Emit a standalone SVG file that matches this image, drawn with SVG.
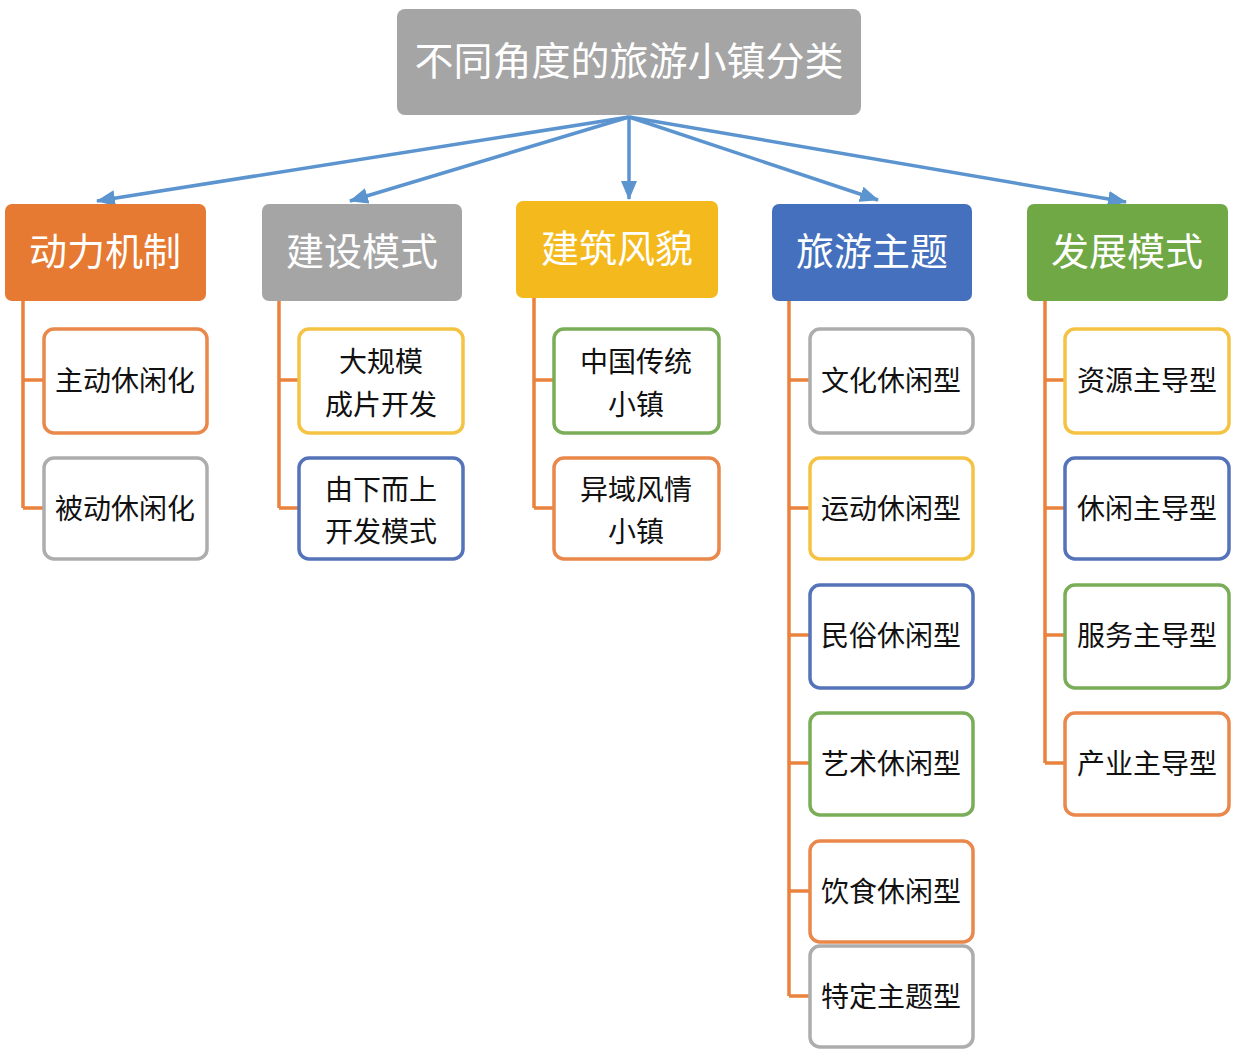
<svg xmlns="http://www.w3.org/2000/svg" width="1233" height="1060" viewBox="0 0 1233 1060">
<style>
text{font-family:"Noto Sans CJK SC","Noto Sans",sans-serif;text-anchor:middle}
.root{font-size:39px;fill:#fff}
.cat{font-size:38px;fill:#fff}
.sub{font-size:28px;fill:#111}
.box{fill:#fff;stroke-width:3.5}
.arr{stroke:#5B94CF;stroke-width:3.5;fill:none;marker-end:url(#ah)}
.tree{stroke:#E9823C;stroke-width:3.5;fill:none}
</style>
<defs>
<marker id="ah" viewBox="0 0 19 16" refX="18" refY="8" markerWidth="19" markerHeight="16" orient="auto" markerUnits="userSpaceOnUse">
<path d="M0,0 L19,8 L0,16 z" fill="#5B94CF"/>
</marker>
</defs>
<rect width="1233" height="1060" fill="#fff"/>
<g id="connectors">
<path class="arr" d="M629,117 L97,201"/>
<path class="arr" d="M629,117 L350,201"/>
<path class="arr" d="M629,117 L629,199"/>
<path class="arr" d="M629,117 L878,200"/>
<path class="arr" d="M629,117 L1126,202"/>
<path class="tree" d="M23,301 V508 M23,380 H43 M23,508 H43"/>
<path class="tree" d="M279,301 V508 M279,380 H298 M279,508 H298"/>
<path class="tree" d="M534,298 V508 M534,380 H553 M534,508 H553"/>
<path class="tree" d="M789,301 V996 M789,380 H809 M789,508 H809 M789,635 H809 M789,763 H809 M789,891 H809 M789,996 H809"/>
<path class="tree" d="M1045,301 V763 M1045,380 H1064 M1045,508 H1064 M1045,635 H1064 M1045,763 H1064"/>
</g>
<g id="root"><rect x="397" y="9" width="464" height="106" rx="8" fill="#A5A5A5"/><text class="root" x="629" y="75">不同角度的旅游小镇分类</text></g>
<g id="cat1"><rect x="5" y="204" width="201" height="97" rx="7" fill="#E67A33"/><text class="cat" x="105" y="265">动力机制</text></g>
<g id="cat2"><rect x="262" y="204" width="200" height="97" rx="7" fill="#A5A5A5"/><text class="cat" x="362" y="265">建设模式</text></g>
<g id="cat3"><rect x="516" y="201" width="202" height="97" rx="7" fill="#F4B91C"/><text class="cat" x="617" y="262">建筑风貌</text></g>
<g id="cat4"><rect x="772" y="204" width="200" height="97" rx="7" fill="#4470BD"/><text class="cat" x="872" y="265">旅游主题</text></g>
<g id="cat5"><rect x="1027" y="204" width="201" height="97" rx="7" fill="#6FA845"/><text class="cat" x="1127" y="265">发展模式</text></g>
<g id="s1a"><rect class="box" x="44" y="329" width="163" height="104" rx="10" stroke="#E9884A"/><text class="sub" x="125" y="391">主动休闲化</text></g>
<g id="s1b"><rect class="box" x="44" y="458" width="163" height="101" rx="10" stroke="#ADADAD"/><text class="sub" x="125" y="519">被动休闲化</text></g>
<g id="s2a"><rect class="box" x="299" y="329" width="164" height="104" rx="10" stroke="#F4C343"/><text class="sub" x="381" y="372">大规模</text><text class="sub" x="381" y="415">成片开发</text></g>
<g id="s2b"><rect class="box" x="299" y="458" width="164" height="101" rx="10" stroke="#5573B9"/><text class="sub" x="381" y="500">由下而上</text><text class="sub" x="381" y="542">开发模式</text></g>
<g id="s3a"><rect class="box" x="554" y="329" width="165" height="104" rx="10" stroke="#79AD57"/><text class="sub" x="636" y="372">中国传统</text><text class="sub" x="636" y="415">小镇</text></g>
<g id="s3b"><rect class="box" x="554" y="458" width="165" height="101" rx="10" stroke="#E9884A"/><text class="sub" x="636" y="500">异域风情</text><text class="sub" x="636" y="542">小镇</text></g>
<g id="s4a"><rect class="box" x="810" y="329" width="163" height="104" rx="10" stroke="#ADADAD"/><text class="sub" x="891" y="391">文化休闲型</text></g>
<g id="s4b"><rect class="box" x="810" y="458" width="163" height="101" rx="10" stroke="#F4C343"/><text class="sub" x="891" y="519">运动休闲型</text></g>
<g id="s4c"><rect class="box" x="810" y="585" width="163" height="103" rx="10" stroke="#5573B9"/><text class="sub" x="891" y="646">民俗休闲型</text></g>
<g id="s4d"><rect class="box" x="810" y="713" width="163" height="102" rx="10" stroke="#79AD57"/><text class="sub" x="891" y="774">艺术休闲型</text></g>
<g id="s4e"><rect class="box" x="810" y="841" width="163" height="101" rx="10" stroke="#E9884A"/><text class="sub" x="891" y="902">饮食休闲型</text></g>
<g id="s4f"><rect class="box" x="810" y="946" width="163" height="101" rx="10" stroke="#ADADAD"/><text class="sub" x="891" y="1007">特定主题型</text></g>
<g id="s5a"><rect class="box" x="1065" y="329" width="164" height="104" rx="10" stroke="#F4C343"/><text class="sub" x="1147" y="391">资源主导型</text></g>
<g id="s5b"><rect class="box" x="1065" y="458" width="164" height="101" rx="10" stroke="#5573B9"/><text class="sub" x="1147" y="519">休闲主导型</text></g>
<g id="s5c"><rect class="box" x="1065" y="585" width="164" height="103" rx="10" stroke="#79AD57"/><text class="sub" x="1147" y="646">服务主导型</text></g>
<g id="s5d"><rect class="box" x="1065" y="713" width="164" height="102" rx="10" stroke="#E9884A"/><text class="sub" x="1147" y="774">产业主导型</text></g>
</svg>
